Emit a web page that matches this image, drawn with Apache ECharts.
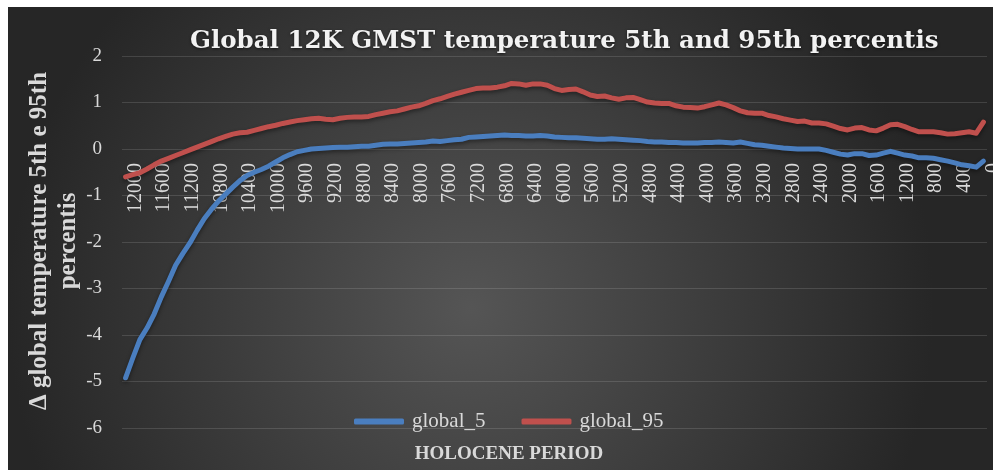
<!DOCTYPE html>
<html>
<head>
<meta charset="utf-8">
<script src="https://cdn.jsdelivr.net/npm/echarts@6/dist/echarts.min.js"></script>
<style>
  html, body { margin: 0; padding: 0; background: #ffffff; }
  #main { position: absolute; left: 8px; top: 7px; width: 985px; height: 463px; }
</style>
</head>
<body>
<div id="main"></div>
<script>
// years before present, 100-year steps
let years = [
  12000, 11900, 11800, 11700, 11600, 11500, 11400, 11300, 11200, 11100,
  11000, 10900, 10800, 10700, 10600, 10500, 10400, 10300, 10200, 10100,
  10000, 9900, 9800, 9700, 9600, 9500, 9400, 9300, 9200, 9100,
  9000, 8900, 8800, 8700, 8600, 8500, 8400, 8300, 8200, 8100,
  8000, 7900, 7800, 7700, 7600, 7500, 7400, 7300, 7200, 7100,
  7000, 6900, 6800, 6700, 6600, 6500, 6400, 6300, 6200, 6100,
  6000, 5900, 5800, 5700, 5600, 5500, 5400, 5300, 5200, 5100,
  5000, 4900, 4800, 4700, 4600, 4500, 4400, 4300, 4200, 4100,
  4000, 3900, 3800, 3700, 3600, 3500, 3400, 3300, 3200, 3100,
  3000, 2900, 2800, 2700, 2600, 2500, 2400, 2300, 2200, 2100,
  2000, 1900, 1800, 1700, 1600, 1500, 1400, 1300, 1200, 1100,
  1000, 900, 800, 700, 600, 500, 400, 300, 200, 100,
  0
];

let global5 = [
  -4.92, -4.50, -4.10, -3.85, -3.55, -3.18, -2.85, -2.50, -2.25, -2.02,
  -1.75, -1.50, -1.30, -1.12, -0.97, -0.82, -0.68, -0.57, -0.50, -0.44,
  -0.37, -0.28, -0.19, -0.12, -0.06, -0.03, 0.00, 0.01, 0.02, 0.03,
  0.04, 0.04, 0.05, 0.06, 0.06, 0.08, 0.10, 0.11, 0.11, 0.12,
  0.13, 0.14, 0.15, 0.17, 0.16, 0.18, 0.20, 0.21, 0.25, 0.26,
  0.27, 0.28, 0.29, 0.30, 0.29, 0.29, 0.28, 0.28, 0.29, 0.28,
  0.26, 0.25, 0.24, 0.24, 0.23, 0.22, 0.21, 0.21, 0.22, 0.21,
  0.20, 0.19, 0.18, 0.16, 0.15, 0.15, 0.14, 0.14, 0.13, 0.13,
  0.13, 0.14, 0.14, 0.15, 0.14, 0.13, 0.15, 0.12, 0.09, 0.08,
  0.06, 0.04, 0.02, 0.01, 0.00, 0.00, 0.00, 0.00, -0.03, -0.07,
  -0.11, -0.13, -0.10, -0.10, -0.14, -0.13, -0.09, -0.05, -0.09, -0.13,
  -0.15, -0.19, -0.19, -0.20, -0.23, -0.26, -0.30, -0.34, -0.36, -0.39,
  -0.26
];

let global95 = [
  -0.60, -0.55, -0.51, -0.43, -0.34, -0.26, -0.20, -0.14, -0.08, -0.02,
  0.04, 0.10, 0.16, 0.22, 0.27, 0.32, 0.35, 0.36, 0.40, 0.44,
  0.48, 0.51, 0.55, 0.58, 0.61, 0.63, 0.65, 0.66, 0.64, 0.63,
  0.66, 0.68, 0.69, 0.69, 0.70, 0.74, 0.77, 0.80, 0.82, 0.86,
  0.90, 0.93, 0.98, 1.04, 1.08, 1.13, 1.18, 1.22, 1.26, 1.30,
  1.31, 1.31, 1.33, 1.36, 1.41, 1.40, 1.37, 1.40, 1.40, 1.37,
  1.30, 1.26, 1.28, 1.29, 1.23, 1.16, 1.13, 1.14, 1.10, 1.07,
  1.10, 1.11, 1.06, 1.01, 0.99, 0.98, 0.98, 0.93, 0.90, 0.89,
  0.88, 0.91, 0.95, 0.99, 0.95, 0.89, 0.82, 0.78, 0.77, 0.77,
  0.72, 0.69, 0.65, 0.62, 0.59, 0.60, 0.56, 0.56, 0.54, 0.49,
  0.44, 0.41, 0.45, 0.46, 0.41, 0.39, 0.45, 0.52, 0.53, 0.48,
  0.42, 0.37, 0.37, 0.37, 0.35, 0.32, 0.33, 0.35, 0.37, 0.34,
  0.58
];

let myChart = echarts.init(document.getElementById('main'));
let serif = '"Liberation Serif", "DejaVu Serif", serif';
let labelColor = '#d9d9d9';
let gridColor = 'rgba(255,255,255,0.13)';

let option = {
    backgroundColor: {
        type: 'radial',
        x: 0.47, y: 0.65, r: 1.0,
        colorStops: [
            { offset: 0, color: '#555555' },
            { offset: 1, color: '#262626' }
        ]
    },
    title: {
        text: 'Global 12K GMST temperature 5th and 95th percentis',
        left: 177,
        top: 17,
        textStyle: {
            fontFamily: '"DejaVu Serif", serif',
            fontWeight: 'bold',
            fontSize: 24.5,
            color: '#f2f2f2',
            textShadowColor: 'rgba(0,0,0,0.6)',
            textShadowBlur: 3,
            textShadowOffsetY: 1
        }
    },
    legend: {
        data: ['global_5', 'global_95'],
        left: 341,
        top: 399,
        icon: 'roundRect',
        itemWidth: 50,
        itemHeight: 6,
        itemGap: 36,
        textStyle: { fontFamily: serif, fontSize: 21, color: labelColor, padding: [0, 0, 0, 3] }
    },
    grid: { left: 114, right: 6, top: 49, bottom: 42, outerBoundsMode: 'none', containLabel: false },
    xAxis: {
        type: 'category',
        data: years,
        boundaryGap: true,
        // axis sits on the zero line (6 units above the bottom)
        offset: -279,
        axisLine: { show: false, onZero: false },
        axisTick: { show: false },
        axisLabel: {
            interval: 3,
            rotate: 90,
            margin: 14,
            verticalAlign: 'top',
            overflow: 'none',
            hideOverlap: false,
            showMinLabel: true,
            showMaxLabel: true,
            fontFamily: serif,
            fontSize: 20,
            color: labelColor
        },
        splitLine: { show: false }
    },
    yAxis: {
        type: 'value',
        min: -6,
        max: 2,
        interval: 1,
        axisLine: { show: false },
        axisTick: { show: false },
        axisLabel: { margin: 20, fontFamily: serif, fontSize: 19, color: labelColor },
        splitLine: { lineStyle: { color: gridColor, width: 1 } }
    },
    graphic: [
        {
            type: 'text',
            x: 46,
            y: 234,
            rotation: Math.PI / 2,
            style: {
                text: 'Δ global temperature 5th e 95th\npercentis',
                fontFamily: serif,
                fontWeight: 'bold',
                fontSize: 25,
                lineHeight: 29,
                fill: labelColor,
                textAlign: 'center',
                textVerticalAlign: 'middle'
            }
        },
        {
            type: 'text',
            x: 501,
            y: 447,
            style: {
                text: 'HOLOCENE PERIOD',
                fontFamily: serif,
                fontWeight: 'bold',
                fontSize: 19,
                fill: labelColor,
                textAlign: 'center',
                textVerticalAlign: 'middle'
            }
        }
    ],
    series: [
        {
            name: 'global_5',
            type: 'line',
            data: global5,
            symbol: 'none',
            itemStyle: { color: '#4a7ebf' },
            lineStyle: {
                width: 5,
                color: '#4a7ebf',
                cap: 'round',
                join: 'round',
                shadowColor: 'rgba(0,0,0,0.45)',
                shadowBlur: 4,
                shadowOffsetY: 2
            }
        },
        {
            name: 'global_95',
            type: 'line',
            data: global95,
            symbol: 'none',
            itemStyle: { color: '#c0504d' },
            lineStyle: {
                width: 5,
                color: '#c0504d',
                cap: 'round',
                join: 'round',
                shadowColor: 'rgba(0,0,0,0.45)',
                shadowBlur: 4,
                shadowOffsetY: 2
            }
        }
    ]
};
myChart.setOption(option);
</script>
</body>
</html>
